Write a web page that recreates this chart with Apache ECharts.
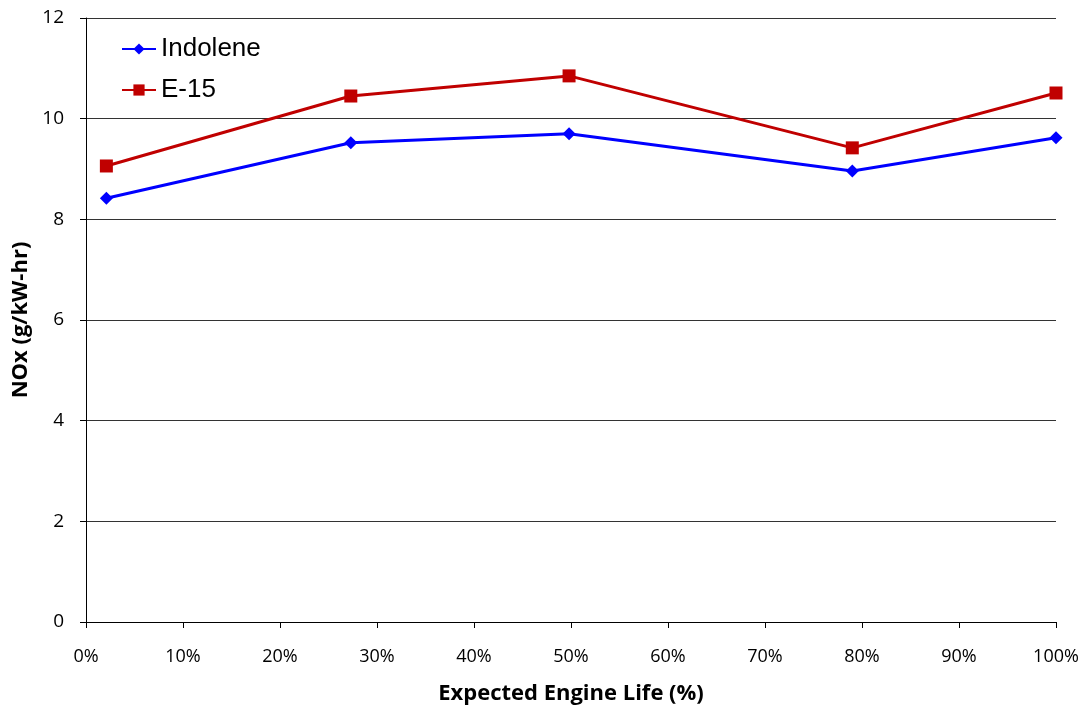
<!DOCTYPE html>
<html><head><meta charset="utf-8">
<script src="https://cdn.jsdelivr.net/npm/echarts@6/dist/echarts.min.js"></script>
<style>html,body{margin:0;padding:0;background:#fff}#c{width:1088px;height:713px}</style>
</head><body><div id="c"></div>
<script>
const xPercent = [2.1, 27.3, 49.8, 79.0, 100];
const indolene = [8.42, 9.52, 9.70, 8.96, 9.62];
const e15 = [9.06, 10.45, 10.85, 9.42, 10.51];
const seriesNames = ['Indolene', 'E-15'];
const xTitle = 'Expected Engine Life (%)';
const yTitle = 'NOx (g/kW-hr)';

const font = "'Liberation Sans Narrow', 'Open Sans', sans-serif";
const chart = echarts.init(document.getElementById('c'));
chart.setOption({
  animation: false,
  grid: {left: 86, right: 32, top: 18, bottom: 91},
  legend: {
    left: 116, top: 31, orient: 'vertical', itemGap: 15,
    itemWidth: 34, itemHeight: 14,
    textStyle: {fontFamily: 'Arial, Liberation Sans, sans-serif', fontSize: 26, color: '#000'},
    data: seriesNames
  },
  xAxis: {
    type: 'value', min: 0, max: 100, interval: 10,
    name: xTitle, nameLocation: 'middle', nameGap: 61,
    nameTextStyle: {fontFamily: font, fontSize: 22, fontWeight: 'bold', color: '#000'},
    axisLine: {lineStyle: {color: '#000', width: 1}},
    axisTick: {show: true, length: 6, lineStyle: {color: '#000'}},
    axisLabel: {formatter: v => v + '%', fontFamily: font, fontSize: 18, color: '#000', margin: 26},
    splitLine: {show: false}
  },
  yAxis: {
    type: 'value', min: 0, max: 12, interval: 2,
    name: yTitle, nameLocation: 'middle', nameGap: 54, nameRotate: 90,
    nameTextStyle: {fontFamily: font, fontSize: 22, fontWeight: 'bold', color: '#000'},
    axisLine: {show: true, lineStyle: {color: '#000', width: 1}},
    axisTick: {show: true, length: 6, lineStyle: {color: '#000'}},
    axisLabel: {fontFamily: font, fontSize: 19, color: '#000', margin: 22},
    splitLine: {show: true, lineStyle: {color: '#333', width: 1}}
  },
  series: [
    {name: seriesNames[0], type: 'line', data: xPercent.map((x, i) => [x, indolene[i]]),
     symbol: 'diamond', symbolSize: 13, lineStyle: {color: '#0000ff', width: 3},
     itemStyle: {color: '#0000ff'}},
    {name: seriesNames[1], type: 'line', data: xPercent.map((x, i) => [x, e15[i]]),
     symbol: 'rect', symbolSize: 13, lineStyle: {color: '#c00000', width: 3},
     itemStyle: {color: '#c00000'}}
  ]
});
</script></body></html>
